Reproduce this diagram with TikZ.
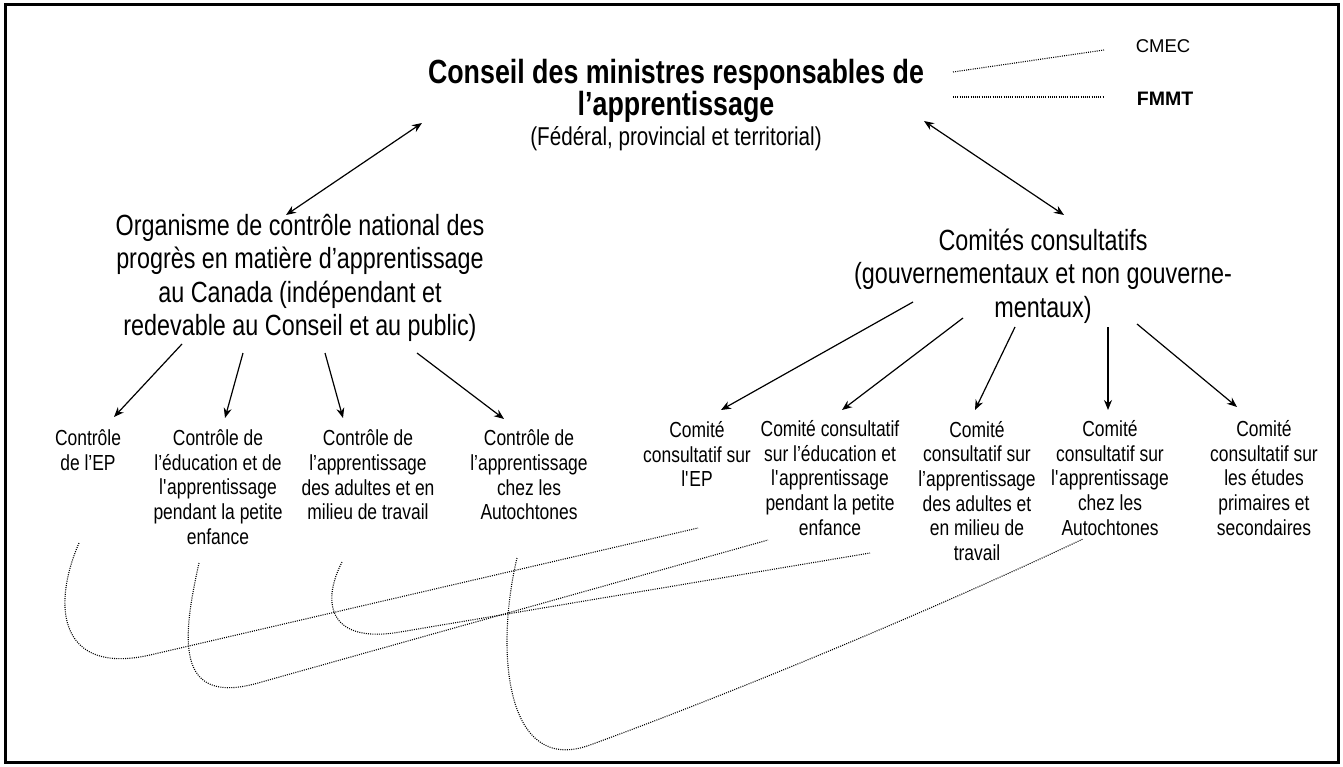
\documentclass[tikz,border=0pt]{standalone}
\usepackage{fontspec}
\setmainfont{Liberation Sans}[FakeStretch=0.8]
\newfontfamily\plainsans{Liberation Sans}
\usetikzlibrary{arrows.meta}
\begin{document}
\begin{tikzpicture}[x=1pt,y=-1pt,
  arr/.style={line width=1.2pt,-{Stealth[length=10pt,width=8pt]}},
  darr/.style={line width=1.2pt,{Stealth[length=10pt,width=8pt]}-{Stealth[length=10pt,width=8pt]}},
  dots/.style={line width=1.1pt,dash pattern=on 1pt off 1.2pt},
  small/.style={align=center,font=\fontsize{21.8}{24.7}\selectfont,inner sep=0pt},
  med/.style={align=center,font=\fontsize{29.2}{33.5}\selectfont,inner sep=0pt},
  big/.style={align=center,font=\bfseries\fontsize{33.5}{32}\selectfont,inner sep=0pt},
]
\useasboundingbox (0,0) rectangle (1343,767);
\draw[line width=3pt] (5,5) rectangle (1338,762);

% top
\node[big] (title) at (676,91) {Conseil des ministres responsables de\\l’apprentissage};
\node[inner sep=0pt,font=\fontsize{25.8}{28}\selectfont] (fed) at (676,139) {(Fédéral, provincial et territorial)};
\node[inner sep=0pt,font=\plainsans\fontsize{18.5}{22}\selectfont] (cmec) at (1163,46) {CMEC};
\node[inner sep=0pt,font=\plainsans\bfseries\fontsize{19.5}{22}\selectfont] (fmmt) at (1165,99) {FMMT};
\coordinate (cmecA) at (953,72);
\coordinate (cmecB) at (1104,50);
\coordinate (fmmtA) at (953,97);
\coordinate (fmmtB) at (1104,97);
\draw[dots] (cmecA) -- (cmecB);
\draw[dots] (fmmtA) -- (fmmtB);

% middle
\node[med] (org) at (300,278) {Organisme de contrôle national des\\progrès en matière d’apprentissage\\au Canada (indépendant et\\redevable au Conseil et au public)};
\node[med] (com) at (1043,276) {Comités consultatifs\\(gouvernementaux et non gouverne-\\mentaux)};

\coordinate (t1) at (422,123);
\coordinate (o1) at (286,215);
\coordinate (t2) at (924,121);
\coordinate (o2) at (1064,215);
\draw[darr] (o1) -- (t1);
\draw[darr] (t2) -- (o2);

% bottom left
\node[small] (c1) at (88,450) {Contrôle\\de l’EP};
\node[small] (c2) at (218,487) {Contrôle de\\l’éducation et de\\l\textquotesingle apprentissage\\pendant la petite\\enfance};
\node[small] (c3) at (368,475) {Contrôle de\\l’apprentissage\\des adultes et en\\milieu de travail};
\node[small] (c4) at (529,475) {Contrôle de\\l’apprentissage\\chez les\\Autochtones};

% bottom right
\node[small] (k1) at (697,454) {Comité\\consultatif sur\\l\textquotesingle EP};
\node[small] (k2) at (830,478) {Comité consultatif\\sur l’éducation et\\l\textquotesingle apprentissage\\pendant la petite\\enfance};
\node[small] (k3) at (977,491) {Comité\\consultatif sur\\l’apprentissage\\des adultes et\\en milieu de\\travail};
\node[small] (k4) at (1110,478) {Comité\\consultatif sur\\l\textquotesingle apprentissage\\chez les\\Autochtones};
\node[small] (k5) at (1264,478) {Comité\\consultatif sur\\les études\\primaires et\\secondaires};

% arrows left
\coordinate (a1s) at (182,344); \coordinate (a1e) at (114,417);
\coordinate (a2s) at (243,353); \coordinate (a2e) at (225,418);
\coordinate (a3s) at (325,353); \coordinate (a3e) at (343,418);
\coordinate (a4s) at (417,353); \coordinate (a4e) at (504,419);
\draw[arr] (a1s) -- (a1e);
\draw[arr] (a2s) -- (a2e);
\draw[arr] (a3s) -- (a3e);
\draw[arr] (a4s) -- (a4e);

% arrows right
\coordinate (b1s) at (913,302); \coordinate (b1e) at (721,410);
\coordinate (b2s) at (963,318); \coordinate (b2e) at (842,410);
\coordinate (b3s) at (1015,327); \coordinate (b3e) at (975,410);
\coordinate (b4s) at (1108,327); \coordinate (b4e) at (1108,410);
\coordinate (b5s) at (1137,324); \coordinate (b5e) at (1237,407);
\draw[arr] (b1s) -- (b1e);
\draw[arr] (b2s) -- (b2e);
\draw[arr] (b3s) -- (b3e);
\draw[arr] (b4s) -- (b4e);
\draw[arr] (b5s) -- (b5e);

% dotted links
\coordinate (dA) at (79,543);  \coordinate (eA) at (698,528);
\coordinate (dB) at (199,563); \coordinate (eB) at (768,540);
\coordinate (dC) at (342,562); \coordinate (eC) at (870,553);
\coordinate (dD) at (517,558); \coordinate (eD) at (1083,539);
\draw[dots] (dA) .. controls (50,610) and (62,675) .. (150,655) -- (eA);
\draw[dots] (dB) .. controls (183,635) and (173,707) .. (258,683) -- (eB);
\draw[dots] (dC) .. controls (320,605) and (331,644) .. (400,632) -- (eC);
\draw[dots] (dD) .. controls (495,650) and (505,776) .. (590,745) .. controls (700,705) and (900,625) .. (eD);
\end{tikzpicture}
\end{document}
